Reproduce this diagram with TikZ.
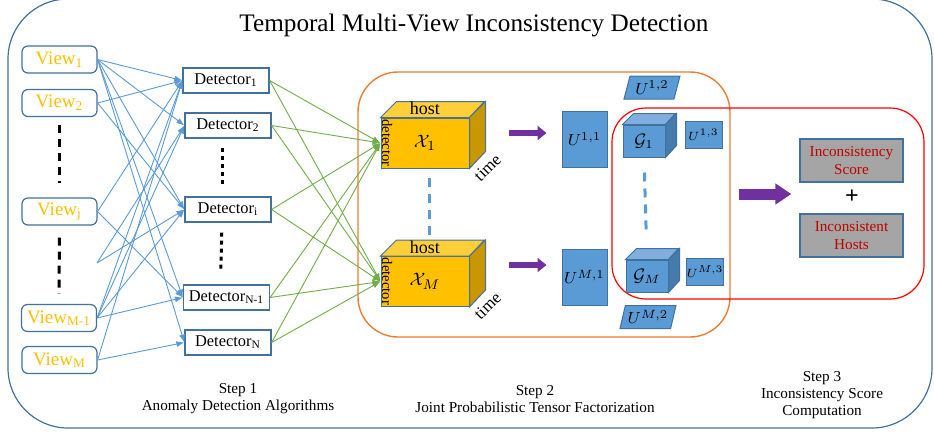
\documentclass[tikz,border=0pt]{standalone}
\usepackage{fontspec}
\setmainfont{Liberation Serif}
\usepackage{amsmath}
\usetikzlibrary{arrows.meta,positioning,shapes.geometric}
\definecolor{frameblue}{HTML}{41719C}
\definecolor{viewgold}{HTML}{FFC000}
\definecolor{linkblue}{HTML}{5B9BD5}
\definecolor{linkgreen}{HTML}{70AD47}
\definecolor{steporange}{HTML}{ED7D31}
\definecolor{flowpurple}{HTML}{7030A0}
\definecolor{tensortop}{HTML}{FFCF3A}
\definecolor{tensorside}{HTML}{C99700}
\definecolor{coretop}{HTML}{80AFDF}
\definecolor{coreside}{HTML}{467BAE}
\definecolor{resultgray}{HTML}{A5A5A5}
\definecolor{resultred}{HTML}{C00000}

\begin{document}
\begin{tikzpicture}[x=0.5pt,y=-0.5pt,>=Latex,
    view/.style={draw=frameblue,fill=white,rounded corners=3pt,line width=0.6pt,
                 text=viewgold,minimum width=37.5pt,minimum height=13.5pt,
                 inner sep=0pt,font=\fontsize{9.5}{11}\selectfont},
    detector/.style={draw=frameblue,fill=white,line width=0.6pt,minimum width=43pt,
                     minimum height=12.5pt,inner sep=0pt,font=\fontsize{8.2}{10}\selectfont},
    tensor/.style={draw=frameblue,fill=viewgold,line width=0.5pt,minimum width=44pt,
                   minimum height=25pt,inner sep=0pt,font=\fontsize{9.5}{11}\selectfont},
    core/.style={draw=frameblue,fill=linkblue,line width=0.5pt,minimum width=21pt,
                 minimum height=16pt,inner sep=0pt,font=\fontsize{9}{11}\selectfont},
    factor/.style={draw=frameblue,fill=linkblue,line width=0.5pt,inner sep=0pt,
                   font=\fontsize{8.5}{10}\selectfont},
    slanted/.style={factor,trapezium,trapezium left angle=71,trapezium right angle=109,
                    trapezium stretches=true,minimum width=28pt,minimum height=11.5pt},
    result/.style={draw=frameblue,fill=resultgray,line width=0.6pt,text=resultred,
                   minimum width=51.5pt,minimum height=21.5pt,inner sep=0pt,align=center,
                   font=\fontsize{7.6}{9}\selectfont},
    steplabel/.style={align=center,inner sep=0pt,font=\fontsize{7.6}{8.6}\selectfont},
    fan/.style={linkblue,line width=0.45pt,-{Latex[length=4pt,width=3pt]}},
    feed/.style={linkgreen,line width=0.45pt,-{Latex[length=4pt,width=3pt]}},
    flow/.style={flowpurple,line width=3pt,-{Triangle[length=4.5pt,width=7pt]}},
    vdots/.style={line width=1.5pt,dash pattern=on 4pt off 3pt},
    hdots/.style={linkblue,line width=1.5pt,dash pattern=on 4.5pt off 3.5pt}]
    \useasboundingbox (0,0) rectangle (934,434);

    % frames
    \draw[frameblue,line width=0.6pt,rounded corners=30pt] (8,-1) rectangle (932,428);
    \draw[steporange,line width=0.7pt,rounded corners=20pt] (358,72) rectangle (730,337);
    \draw[red,line width=0.6pt,rounded corners=17pt] (612,108) rectangle (924,299);

    \node[font=\fontsize{12.6}{15}\selectfont] (title) at (474,25)
        {Temporal Multi-View Inconsistency Detection};

    % step 1
    \node[view] (v1)  at (59.5,59.5) {View\textsubscript{1}};
    \node[view] (v2)  at (59.5,103)  {View\textsubscript{2}};
    \node[view] (vj)  at (59.5,211.5) {View\textsubscript{j}};
    \node[view] (vm1) at (59,318)    {View\textsubscript{M-1}};
    \node[view] (vm)  at (59.5,360)  {View\textsubscript{M}};
    \coordinate (vloose) at (97,263);
    \draw[vdots,shorten <=4pt,shorten >=7pt] (v2) -- (vj);
    \draw[vdots,shorten <=6pt,shorten >=5pt] (vj) -- (vm1);

    \node[detector] (d1)  at (226,80.5)  {Detector\textsubscript{1}};
    \node[detector] (d2)  at (228,125.5) {Detector\textsubscript{2}};
    \node[detector] (di)  at (228,209.5) {Detector\textsubscript{i}};
    \node[detector] (dn1) at (226.5,297.5) {Detector\textsubscript{N-1}};
    \node[detector] (dn)  at (228,342.5) {Detector\textsubscript{N}};
    \draw[line width=1.5pt,dash pattern=on 2pt off 2pt,shorten <=4.5pt,shorten >=5pt]
        ([xshift=-3pt]d2.south) -- ([xshift=-3pt]di.north);
    \draw[line width=1.5pt,dash pattern=on 2pt off 2pt,shorten <=5pt,shorten >=6.5pt]
        ([xshift=-3pt]di.south) -- ([xshift=-3pt]dn1.north);

    \foreach \s/\t in {v1/d1,v1/d2,v1/di,v1/dn1,v1/dn,v2/d1,v2/di,vj/d1,vj/dn1,
                       vm1/d1,vm1/d2,vm1/di,vm1/dn1,vm/d1,vm/dn}
        \draw[fan] (\s.east) -- (\t.west);
    \draw[fan] (vloose) -- (d2.west);
    \draw[fan] (vloose) -- (di.west);

    % step 2
    \node[tensor] (x1) at (425,143)   {$\mathcal{X}_1$};
    \node[tensor] (xm) at (425,281.5) {$\mathcal{X}_M$};
    \foreach \t in {x1,xm}{
        \filldraw[draw=frameblue,fill=tensortop,line width=0.5pt]
            (\t.north west) -- ++(16,-16) -- ++(88,0) -- (\t.north east) -- cycle;
        \filldraw[draw=frameblue,fill=tensorside,line width=0.5pt]
            (\t.north east) -- ++(16,-16) -- ++(0,50) -- (\t.south east) -- cycle;
        \node[inner sep=0pt,font=\fontsize{9}{10}\selectfont] (\t host)
            at ([yshift=4.5pt]\t.north) {host};
        \node[inner sep=0pt,rotate=-90,font=\fontsize{7.3}{8}\selectfont] (\t det)
            at ([xshift=3.3pt]\t.west) {detector};
        \node[inner sep=0pt,rotate=45,font=\fontsize{8.5}{9}\selectfont] (\t time)
            at ([shift={(9pt,0.5pt)}]\t.south east) {time};
    }
    \draw[hdots,shorten <=4.5pt,shorten >=10.5pt] ([xshift=2pt]x1.south) -- ([xshift=2pt]xm.north);

    \foreach \d in {d1,d2,di,dn1,dn}{
        \draw[feed] (\d.east) -- (x1.west);
        \draw[feed] (\d.east) -- (xm.west);
    }

    \node[factor,minimum width=22.5pt,minimum height=28pt] (u11) at (584.5,139) {$U^{1,1}$};
    \node[factor,minimum width=22.5pt,minimum height=28pt] (um1) at (584.5,277) {$U^{M,1}$};
    \draw[flow,shorten <=19.5pt,shorten >=7.5pt] ([yshift=5pt]x1.east) -- ([yshift=3pt]u11.west);
    \draw[flow,shorten <=19.5pt,shorten >=7.5pt] ([yshift=8.25pt]xm.east) -- ([yshift=6pt]um1.west);

    \node[slanted] (u12) at (652,87.5) {$U^{1,2}$};
    \node[slanted] (um2) at (648,317)  {$U^{M,2}$};

    % step 3
    \node[core] (g1) at (644,141) {$\mathcal{G}_1$};
    \node[core] (gm) at (647,276) {$\mathcal{G}_M$};
    \foreach \g in {g1,gm}{
        \filldraw[draw=frameblue,fill=coretop,line width=0.5pt]
            (\g.north west) -- ++(11,-11) -- ++(42,0) -- (\g.north east) -- cycle;
        \filldraw[draw=frameblue,fill=coreside,line width=0.5pt]
            (\g.north east) -- ++(11,-11) -- ++(0,32) -- (\g.south east) -- cycle;
    }
    \draw[hdots,shorten <=7.5pt,shorten >=15pt] (g1.south) -- (gm.north);

    \node[factor,minimum width=18.5pt,minimum height=13.5pt,font=\fontsize{6.5}{8}\selectfont]
        (u13) at (703.5,134.5) {$U^{1,3}$};
    \node[factor,minimum width=18.5pt,minimum height=13.5pt,font=\fontsize{6.5}{8}\selectfont]
        (um3) at (705,271.5) {$U^{M,3}$};

    \node[result] (score) at (851.5,160.5) {Inconsistency\\Score};
    \node[result] (hosts) at (851.5,235.5) {Inconsistent\\Hosts};
    \node[inner sep=0pt,font=\fontsize{12}{12}\selectfont\bfseries] (plus) at (852,197) {+};
    \coordinate (tail) at (739,194);
    \draw[flowpurple,line width=5.5pt,-{Triangle[length=8pt,width=10pt]},shorten >=4pt]
        (tail) -- (tail -| score.west);

    \node[steplabel] (step1) at (238,399) {Step 1\\Anomaly Detection Algorithms};
    \node[steplabel] (step2) at (535,399) {Step 2\\Joint Probabilistic Tensor Factorization};
    \node[steplabel] (step3) at (822,395) {Step 3\\Inconsistency Score\\Computation};
\end{tikzpicture}
\end{document}
